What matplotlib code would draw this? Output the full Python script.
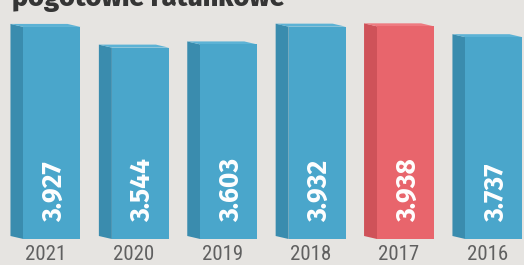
import numpy as np
import matplotlib.pyplot as plt
from matplotlib.patches import Polygon

# data
years = ["2021", "2020", "2019", "2018", "2017", "2016"]
values = [3.927, 3.544, 3.603, 3.932, 3.938, 3.737]
labels = ["3.927", "3.544", "3.603", "3.932", "3.938", "3.737"]
highlight = "2017"

bg = "#e6e4e1"
blue = ("#4aa6cb", "#3a8cae", "#5cb2d5")   # front, side, top
red = ("#e8656c", "#cf5259", "#ee7a80")

value_font = ["Fira Sans", "Lato", "DejaVu Sans"]
year_font = ["Roboto Condensed", "Archivo Narrow", "Liberation Sans Narrow", "DejaVu Sans"]

fig = plt.figure(figsize=(5.24, 2.65), dpi=100, facecolor=bg)
ax = fig.add_axes([0, 0, 1, 1])
ax.set_facecolor(bg)
ax.set_xlim(-0.588, 5.34)
ax.set_ylim(-0.481, 4.426)
ax.axis("off")

x = np.arange(len(years))
w = 0.645
dx = 0.147   # depth to the left
dy = 0.056   # depth upwards

for i, (yr, v, lab) in enumerate(zip(years, values, labels)):
    front, side, top = red if yr == highlight else blue
    ax.bar(x[i], v, width=w, color=front, zorder=3)
    x0 = x[i] - w / 2
    x1 = x[i] + w / 2
    ax.add_patch(Polygon([(x0 - dx, dy), (x0, 0), (x0, v), (x0 - dx, v + dy)],
                         closed=True, facecolor=side, edgecolor="none", zorder=2))
    ax.add_patch(Polygon([(x0, v), (x1, v), (x1 - dx, v + dy), (x0 - dx, v + dy)],
                         closed=True, facecolor=top, edgecolor="none", zorder=2))
    ax.text(x[i] + 0.025, 0.31, lab, rotation=90, ha="center", va="bottom",
            color="white", fontsize=19, fontweight="bold", family=value_font, zorder=4)
    ax.text(x[i] - dx / 2, -0.29, yr, ha="center", va="center", color="#606060",
            fontsize=15, family=year_font, zorder=4)

fig.text(12 / 524, 1 - 6 / 265, "pogotowie ratunkowe", ha="left", va="baseline",
         fontsize=19.5, fontweight="heavy", color="#353535",
         family=["Fira Sans", "DejaVu Sans"])

fig.savefig("out.png", dpi=100, facecolor=bg)
